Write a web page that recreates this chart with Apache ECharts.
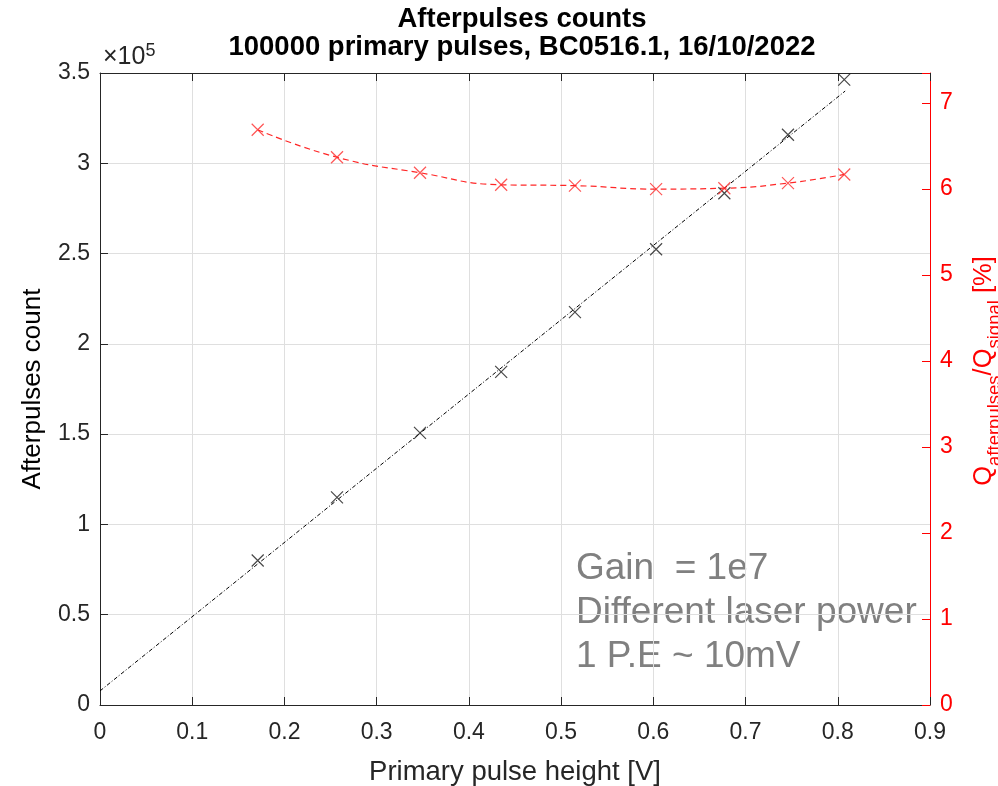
<!DOCTYPE html>
<html>
<head>
<meta charset="utf-8">
<script src="https://cdn.jsdelivr.net/npm/echarts@6/dist/echarts.min.js"></script>
<style>
  html, body { margin: 0; padding: 0; background: #fff; }
  #chart { width: 998px; height: 786px; }
</style>
</head>
<body>
<div id="chart"></div>
<script>
// Measured primary pulse heights [V]
const pulseHeight = [0.171, 0.257, 0.347, 0.435, 0.515, 0.603, 0.677, 0.746, 0.807];
// Afterpulse counts per 100000 primary pulses
const afterpulseCount = [80000, 115000, 150700, 184500, 217600, 252400, 283400, 315800, 346300];
// Afterpulse charge over signal charge [%]
const chargeRatio = [6.69, 6.37, 6.19, 6.05, 6.04, 6.0, 6.01, 6.07, 6.17];
// Linear fit of the counts (end points)
const fitX = [0, 0.808];
const fitY = [7800, 340000];
// Tick labels
const xTicks = ['0', '0.1', '0.2', '0.3', '0.4', '0.5', '0.6', '0.7', '0.8', '0.9'];
const leftTicks = ['0', '0.5', '1', '1.5', '2', '2.5', '3', '3.5'];
const rightTicks = ['0', '1', '2', '3', '4', '5', '6', '7'];

const AX = '#262626';
const RED = '#ff0000';
const FONT = 'Liberation Sans, Arial, sans-serif';
const xMark = 'path://M0,0L10,10M10,0L0,10';

const chart = echarts.init(document.getElementById('chart'), null, { renderer: 'canvas' });

function pickLabel(list, step) {
  return function (v) {
    const i = Math.round(v / step);
    return Math.abs(i * step - v) < step * 1e-6 && list[i] !== undefined ? list[i] : '';
  };
}

const option = {
  animation: false,
  backgroundColor: '#fff',
  title: {
    text: 'Afterpulses counts\n100000 primary pulses, BC0516.1, 16/10/2022',
    left: 517,
    textAlign: 'center',
    top: 0,
    textStyle: { fontFamily: FONT, fontWeight: 'bold', fontSize: 27.5, lineHeight: 28, color: '#000' }
  },
  grid: { left: 100, right: 68, top: 73, bottom: 81, containLabel: false, outerBoundsMode: 'none' },
  xAxis: [{
    type: 'value', min: 0, max: 0.9, interval: 0.1,
    name: 'Primary pulse height [V]', nameLocation: 'middle', nameGap: 53,
    nameTextStyle: { fontFamily: FONT, fontSize: 27.5, color: AX },
    axisLine: { show: true, onZero: false, lineStyle: { color: AX, width: 1 } },
    axisTick: { show: true, inside: true, length: 8, lineStyle: { color: AX } },
    axisLabel: { fontFamily: FONT, fontSize: 23, color: AX, margin: 16, formatter: pickLabel(xTicks, 0.1) },
    splitLine: { show: true, lineStyle: { color: '#dfdfdf', width: 1 } }
  }, {
    type: 'value', min: 0, max: 0.9, interval: 0.1, position: 'top',
    axisLine: { show: true, onZero: false, lineStyle: { color: AX, width: 1 } },
    axisTick: { show: true, inside: true, length: 8, lineStyle: { color: AX } },
    axisLabel: { show: false },
    splitLine: { show: false }
  }],
  yAxis: [{
    type: 'value', min: 0, max: 350000, interval: 50000,
    name: 'Afterpulses count', nameLocation: 'middle', nameGap: 54,
    nameTextStyle: { fontFamily: FONT, fontSize: 26, color: '#000' },
    axisLine: { show: true, onZero: false, lineStyle: { color: AX, width: 1 } },
    axisTick: { show: true, inside: true, length: 8, lineStyle: { color: AX } },
    axisLabel: { fontFamily: FONT, fontSize: 23, color: AX, margin: 10, formatter: pickLabel(leftTicks, 50000) },
    splitLine: { show: true, lineStyle: { color: '#dfdfdf', width: 1 } }
  }, {
    type: 'value', min: 0, max: 7.35, interval: 1, position: 'right',
    name: 'Q{sub|afterpulses}/Q{sub|signal} [%]', nameLocation: 'middle', nameGap: 32, nameRotate: 90,
    nameTextStyle: {
      fontFamily: FONT, fontSize: 25.5, color: RED, lineHeight: 30, padding: [0, 0, 0, 36],
      rich: {
        sub: { fontFamily: FONT, fontSize: 18.5, color: RED, padding: [22, 0, 0, 0], lineHeight: 30 }
      }
    },
    axisLine: { show: true, onZero: false, lineStyle: { color: RED, width: 1 } },
    axisTick: { show: true, inside: true, length: 8, lineStyle: { color: RED } },
    axisLabel: { fontFamily: FONT, fontSize: 23, color: RED, margin: 10, formatter: pickLabel(rightTicks, 1) },
    splitLine: { show: false }
  }],
  graphic: [{
    type: 'text', left: 103, top: 42,
    style: {
      text: '×10{sup|5}',
      rich: { sup: { fontFamily: FONT, fontSize: 18, fill: AX, padding: [0, 0, 12, 0] } },
      fontFamily: FONT, fontSize: 25, fill: AX
    }
  }, {
    type: 'text', left: 576, top: 547,
    style: {
      text: 'Gain  = 1e7\nDifferent laser power\n1 P.E ~ 10mV',
      fontFamily: FONT, fontSize: 37, lineHeight: 44, fill: '#808080'
    }
  }],
  series: [{
    name: 'linear fit', type: 'line', xAxisIndex: 0, yAxisIndex: 0,
    data: fitX.map((x, i) => [x, fitY[i]]),
    showSymbol: false, symbol: 'none', silent: true,
    lineStyle: { color: '#000', width: 1, type: [4, 2, 1, 2] },
    z: 2
  }, {
    name: 'counts', type: 'scatter', xAxisIndex: 0, yAxisIndex: 0,
    data: pulseHeight.map((x, i) => [x, afterpulseCount[i]]),
    symbol: xMark, symbolSize: 12,
    itemStyle: { color: 'rgba(0,0,0,0)', borderColor: '#1a1a1a', borderWidth: 1.2 },
    z: 3
  }, {
    name: 'ratio', type: 'line', xAxisIndex: 0, yAxisIndex: 1,
    data: pulseHeight.map((x, i) => [x, chargeRatio[i]]),
    smooth: 0.5, showSymbol: false, symbol: 'none',
    lineStyle: { color: RED, width: 1.2, type: [6, 4], opacity: 0.85 },
    z: 2
  }, {
    name: 'ratio points', type: 'scatter', xAxisIndex: 0, yAxisIndex: 1,
    data: pulseHeight.map((x, i) => [x, chargeRatio[i]]),
    symbol: xMark, symbolSize: 12,
    itemStyle: { color: 'rgba(0,0,0,0)', borderColor: '#ff2a2a', borderWidth: 1.2 },
    z: 3
  }]
};

chart.setOption(option);
</script>
</body>
</html>
